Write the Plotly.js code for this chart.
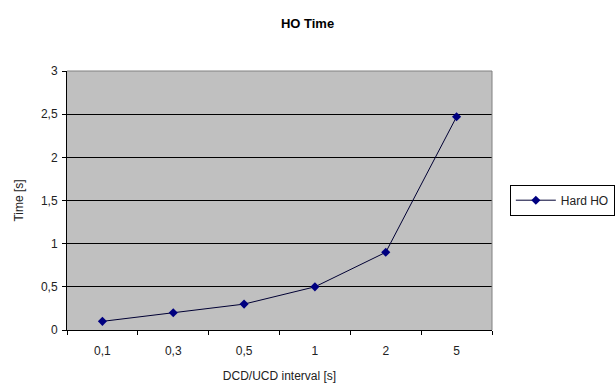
<!DOCTYPE html>
<html>
<head>
<meta charset="utf-8">
<script src="https://cdn.plot.ly/plotly-3.0.1.min.js"></script>
<style>html,body{margin:0;padding:0;background:#fff;}#chart{width:615px;height:391px;}</style>
</head>
<body>
<div id="chart"></div>
<script>
const categories = ["0,1", "0,3", "0,5", "1", "2", "5"];
const hardHO = [0.1, 0.2, 0.3, 0.5, 0.9, 2.47];
const yTicks = [0, 0.5, 1, 1.5, 2, 2.5, 3];
const yTickLabels = ["0", "0,5", "1", "1,5", "2", "2,5", "3"];

const trace = {
  x: categories,
  y: hardHO,
  type: "scatter",
  mode: "lines+markers",
  name: "Hard HO",
  line: {color: "#000033", width: 1},
  marker: {symbol: "diamond", size: 7, color: "#000080"}
};

const layout = {
  width: 615,
  height: 391,
  margin: {l: 67, r: 123, t: 71, b: 61},
  paper_bgcolor: "#ffffff",
  plot_bgcolor: "#c0c0c0",
  font: {family: "Liberation Sans, Arial, sans-serif", size: 12, color: "#222"},
  title: {text: "<b>HO Time</b>", x: 0.5, xanchor: "center", y: 0.94, yanchor: "middle",
          font: {size: 13, color: "#000"}},
  xaxis: {
    type: "category",
    range: [-0.5, 5.5],
    showgrid: false,
    showline: true, linecolor: "#000", linewidth: 1,
    ticks: "outside", tickson: "boundaries", ticklen: 4, tickcolor: "#000",
    ticklabelstandoff: 10,
    zeroline: false,
    mirror: false,
    automargin: false,
    title: {text: "DCD/UCD interval [s]", standoff: 14, font: {size: 12, color: "#222"}}
  },
  yaxis: {
    range: [0, 3],
    tickvals: yTicks,
    ticktext: yTickLabels,
    showgrid: true, gridcolor: "#000", gridwidth: 1,
    showline: true, linecolor: "#000", linewidth: 1,
    ticks: "outside", ticklen: 4, tickcolor: "#000",
    ticklabelstandoff: 2,
    zeroline: false,
    automargin: false,
    title: {text: "Time [s]", standoff: 14, font: {size: 12, color: "#222"}}
  },
  shapes: [
    {type: "line", xref: "paper", yref: "paper", x0: 0, x1: 1, y0: 1, y1: 1, line: {color: "#808080", width: 1}},
    {type: "line", xref: "paper", yref: "paper", x0: 1, x1: 1, y0: 0, y1: 1, line: {color: "#808080", width: 1}}
  ],
  showlegend: true,
  legend: {
    xref: "container", yref: "container",
    x: 0.829, y: 0.488, xanchor: "left", yanchor: "middle",
    bgcolor: "#fff", bordercolor: "#000", borderwidth: 1,
    itemwidth: 40,
    font: {size: 12, color: "#222"}
  }
};

Plotly.newPlot("chart", [trace], layout, {displayModeBar: false, staticPlot: true});
</script>
</body>
</html>
